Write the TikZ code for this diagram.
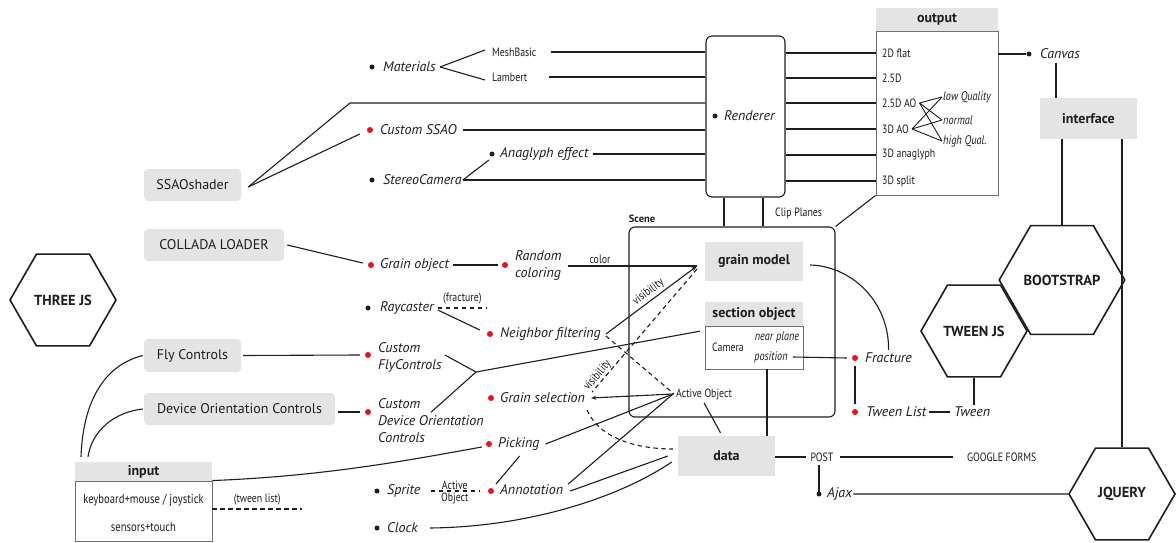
\documentclass[tikz,border=0pt]{standalone}
\usepackage{fontspec}
\usepackage{graphicx}
\setmainfont{PT Sans}
\usetikzlibrary{shapes.geometric,arrows.meta}
\definecolor{ink}{HTML}{1E1E1E}
\definecolor{boxgray}{HTML}{E4E4E4}
\definecolor{dotred}{HTML}{E8141B}
\definecolor{framegray}{HTML}{707070}
\newcommand\cnd[1]{\scalebox{0.82}[1]{#1}}
\tikzset{
  ln/.style={draw=ink, line width=1.1pt},
  dsh/.style={draw=ink, line width=1.1pt, dash pattern=on 4.5pt off 3.5pt},
  graybox/.style={fill=boxgray, rounded corners=4pt, inner sep=0pt, text=ink, font=\fontsize{14}{16}\selectfont},
  sqbox/.style={fill=boxgray, inner sep=0pt, text=ink, font=\fontsize{14}{16}\selectfont\bfseries},
  whitebox/.style={draw=framegray, fill=white, line width=0.9pt, inner sep=0pt},
  roundframe/.style={draw=ink, line width=1.1pt, rounded corners=6pt, inner sep=0pt},
  hex/.style={regular polygon, regular polygon sides=6, minimum size=106pt, draw=ink, line width=1.6pt, inner sep=0pt, text=ink, font=\fontsize{14.5}{16}\selectfont\bfseries},
  dotb/.style={circle, fill=ink, minimum size=5pt, inner sep=0pt},
  dotr/.style={circle, fill=dotred, minimum size=6pt, inner sep=0pt},
  it/.style={font=\fontsize{14}{17}\selectfont\itshape, inner sep=0pt, anchor=west, text=ink, align=left},
  cn/.style={font=\fontsize{12}{14}\selectfont, inner sep=0pt, text=ink},
  itc/.style={font=\fontsize{12.5}{14}\selectfont\itshape, inner sep=0pt, text=ink},
}
\begin{document}
\begin{tikzpicture}[x=1pt,y=-1pt]
\useasboundingbox[fill=white] (0,0) rectangle (1176,543);

% ---------- hexagons
\node[hex] (three) at (63,300) {THREE JS};
\node[hex] (boot) at (1062,280) {BOOTSTRAP};
\node[hex] (tweenjs) at (974,331) {TWEEN JS};
\node[hex] (jq) at (1122,494) {JQUERY};

% ---------- frames
\node[roundframe, minimum width=79pt, minimum height=161pt] (rend) at (745.5,116.5) {};
\node[roundframe, minimum width=206pt, minimum height=190pt] (scene) at (732,322) {};
\node[font=\fontsize{10.5}{11}\selectfont\bfseries, inner sep=0pt, text=ink] (scenelbl) at (642,219) {Scene};
\node[dotb] (rdot) at (715,116) {};
\node[it] (rtxt) at (724,116) {Renderer};

% ---------- output
\node[whitebox, minimum width=122pt, minimum height=164pt] (outbody) at (937,113) {};
\node[sqbox, minimum width=122pt, minimum height=23pt] (outhead) at (937,19.5) {output};
\node[cn, anchor=west] (o1) at (882,53) {\cnd{2D flat}};
\node[cn, anchor=west] (o2) at (882,78) {\cnd{2.5D}};
\node[cn, anchor=west] (o3) at (882,103) {\cnd{2.5D AO}};
\node[cn, anchor=west] (o4) at (882,129) {\cnd{3D AO}};
\node[cn, anchor=west] (o5) at (882,155) {\cnd{3D anaglyph}};
\node[cn, anchor=west] (o6) at (882,181) {\cnd{3D split}};
\node[itc, anchor=west] (lq) at (943,97) {\cnd{low Quality}};
\node[itc, anchor=west] (nm) at (943,120) {\cnd{normal}};
\node[itc, anchor=west] (hq) at (943,141) {\cnd{high Qual.}};
\foreach \a in {o3,o4} \foreach \b in {lq,nm,hq}
  \draw[ln, line width=0.9pt] ([xshift=3pt]\a.east) -- ([xshift=-1pt]\b.west);
\foreach \o in {o1,o2,o3,o4,o5,o6}
  \draw[ln] (rend.east |- \o.west) -- (outbody.west |- \o.west);

% ---------- canvas / interface
\node[dotb] (cvdot) at (1029,54) {};
\node[it] (canvas) at (1040,54) {Canvas};
\draw[ln] (outbody.east |- cvdot) -- (cvdot);
\node[sqbox, minimum width=97pt, minimum height=41pt] (iface) at (1088.5,118.5) {interface};
\coordinate (cvdn) at ([xshift=-4pt]canvas.south);
\draw[ln, shorten <=4pt] (cvdn) -- (cvdn |- iface.north);
\draw[ln] (iface.south -| boot.north) -- (boot.north);
\draw[ln] (iface.south -| jq.north) -- (jq.north);

% ---------- renderer / scene links
\coordinate (rs1) at ([xshift=-21.5pt]rend.south);
\coordinate (rs2) at ([xshift=17.5pt]rend.south);
\draw[ln] (rs1) -- (rs1 |- scene.north);
\draw[ln] (rs2) -- (rs2 |- scene.north);
\node[cn, anchor=west] (clip) at (775,213) {\cnd{Clip Planes}};
\draw[ln] (scene.north east) -- (outbody.south west);

% ---------- materials
\node[dotb] (matdot) at (372,67) {};
\node[it] (mat) at (383,67) {Materials};
\node[cn, anchor=west] (mb) at (492,52) {\cnd{MeshBasic}};
\node[cn, anchor=west] (lam) at (492,77) {\cnd{Lambert}};
\draw[ln] ([xshift=4pt]mat.east) -- ([xshift=-7pt,yshift=2pt]mb.west);
\draw[ln] ([xshift=4pt]mat.east) -- ([xshift=-7pt,yshift=-3pt]lam.west);
\draw[ln] ([xshift=14pt]mb.east) -- (rend.west |- mb.east);
\draw[ln] ([xshift=22pt]lam.east) -- (rend.west |- lam.east);

% ---------- SSAO
\node[graybox, minimum width=97pt, minimum height=32pt] (ssao) at (192.5,185) {SSAOshader};
\coordinate (ssaoknee) at (350,103);
\node[dotr] (cssdot) at (370,130) {};
\node[it] (css) at (380,130) {Custom SSAO};
\draw[ln] ([xshift=7pt,yshift=-2pt]ssao.east) -- (ssaoknee) -- (rend.west |- ssaoknee);
\draw[ln] ([xshift=7pt,yshift=-2pt]ssao.east) -- ([xshift=-7pt,yshift=-4pt]cssdot.west);
\draw[ln] ([xshift=6pt]css.east) -- (rend.west |- css.east);

% ---------- stereo
\node[dotb] (scdot) at (372,180) {};
\node[it] (sc) at (383,180) {StereoCamera};
\node[dotb] (anadot) at (492,154) {};
\node[it] (ana) at (500,154) {Anaglyph effect};
\draw[ln] ([xshift=4pt]ana.east) -- (rend.west |- ana.east);
\draw[ln] ([xshift=1pt]sc.east) -- ([xshift=-3pt,yshift=-6pt]anadot.center);
\draw[ln] ([xshift=1pt]sc.east) -- (rend.west |- sc.east);

% ---------- collada / grain
\node[graybox, minimum width=140pt, minimum height=32pt] (coll) at (214,245) {COLLADA LOADER};
\node[dotr] (godot) at (371,265) {};
\node[it] (go) at (380,265) {Grain object};
\draw[ln] ([xshift=3pt]coll.east) -- ([xshift=-5pt,yshift=2pt]godot.west);
\node[dotr] (rcdot) at (505,265) {};
\node[it] (rc) at (515,266) {Random\\coloring};
\draw[ln] ([xshift=4pt]go.east) -- ([xshift=-4pt]rcdot.west);
\node[sqbox, minimum width=98pt, minimum height=39pt] (grain) at (754,261.5) {grain model};
\coordinate (gin) at (697,266);
\draw[ln] ([xshift=6pt]rc.east) -- (gin) node[pos=0.25, above=2pt, cn] {\cnd{color}};

% ---------- raycaster / neighbor
\node[dotb] (raydot) at (368,308) {};
\node[it] (ray) at (380,308) {Raycaster};
\coordinate (frend) at (487,308);
\draw[dsh] ([xshift=4pt]ray.east) -- (frend) node[midway, above=3pt, cn] {\cnd{(fracture)}};
\node[dotr] (nfdot) at (490,334) {};
\node[it] (nf) at (500,334) {Neighbor filtering};
\draw[ln] ([xshift=4pt,yshift=-2pt]ray.east) -- ([xshift=-7pt,yshift=4pt]nfdot.west);
\draw[ln, -{Stealth[length=6pt,width=4pt]}] ([xshift=5pt]nf.east) -- (gin)
  node[pos=0.52, above=2pt, sloped, cn] {\cnd{visibility}};

% ---------- section object
\node[whitebox, minimum width=98pt, minimum height=43pt] (secbody) at (754,347.5) {};
\node[sqbox, minimum width=98pt, minimum height=24pt] (sechead) at (754,314) {section object};
\node[cn] (cam) at (728,347) {\cnd{Camera}};
\node[itc] (np) at (777,337) {\cnd{near plane}};
\node[itc] (pos) at (771,357) {\cnd{position}};

% ---------- active object / grain selection
\node[cn, anchor=west] (ao) at (676,394) {\cnd{Active Object}};
\draw[dsh] ([xshift=5pt,yshift=-2pt]nf.east) -- ([xshift=-2pt]ao.west);
\node[dotr] (gsdot) at (491,398) {};
\node[it] (gs) at (500,398) {Grain selection};
\draw[dsh] ([yshift=-3pt]gin) -- ([xshift=7pt,yshift=6pt]gs.east)
  node[pos=0.9, above=0.5pt, sloped, cn] {\cnd{visibility}};
\draw[ln, {Stealth[length=5pt,width=4pt]}-] ([xshift=6pt]gs.east) -- ([xshift=-3pt]ao.west);

% ---------- data
\node[sqbox, minimum width=97pt, minimum height=40pt] (data) at (726.5,456) {data};
\draw[dsh] ([xshift=2pt,yshift=-12pt]gs.east) .. controls (600,440) and (640,449) .. ([xshift=-5pt,yshift=7pt]data.west);
\draw[ln] ([yshift=-3pt]ao.south) -- ([xshift=-6pt,yshift=3pt]data.north);
\coordinate (posdn) at ([xshift=13pt]secbody.south);
\draw[ln] (posdn) -- (posdn |- data.north);

% ---------- fly / device orientation
\node[graybox, minimum width=97pt, minimum height=33pt] (fly) at (192.5,355.5) {Fly Controls};
\node[dotr] (cfdot) at (368,355) {};
\node[it] (cf) at (378,357) {Custom\\FlyControls};
\draw[ln] ([xshift=2pt]fly.east) -- ([xshift=-5pt]cfdot.west);
\node[graybox, minimum width=191pt, minimum height=32pt] (doc) at (239.5,409) {Device Orientation Controls};
\node[dotr] (cddot) at (368,412) {};
\node[it] (cd) at (378,421) {Custom\\Device Orientation\\Controls};
\draw[ln] ([xshift=3pt,yshift=-3pt]doc.east) -- ([xshift=-5pt]cddot.west);
\coordinate (fk) at (476,372);
\draw[ln] ([xshift=3pt,yshift=2pt]cf.east) -- (fk);
\draw[ln] ([xshift=53pt,yshift=-13.5pt]cd.north west) -- (fk);
\draw[ln] (fk) -- ([xshift=-5pt,yshift=-5pt]sechead.south west);

% ---------- picking / sprite / annotation / clock
\node[dotr] (pkdot) at (489,444) {};
\node[it] (pk) at (498,444) {Picking};
\draw[ln] ([xshift=6pt]pk.east) -- ([xshift=-3pt]ao.west);
\node[dotr] (andot) at (491,491) {};
\node[it] (an) at (500,490) {Annotation};
\draw[ln] ([xshift=5pt,yshift=6pt]an.east) -- ([xshift=-3pt]ao.west);
\draw[ln] ([xshift=7pt,yshift=-1pt]an.east) -- ([xshift=-10pt]data.west);
\draw[ln] ([xshift=-20pt,yshift=-12pt]pk.east) -- ([xshift=5pt,yshift=7pt]andot.center);
\node[dotb] (spdot) at (377,491) {};
\node[it] (sp) at (387,491) {Sprite};
\draw[dsh] ([xshift=10pt]sp.east) -- ([xshift=-12pt]andot.center)
  node[midway, above=1pt, cn] {\cnd{Active}} node[midway, below=1pt, cn] {\cnd{Object}};
\node[dotb] (ckdot) at (377,528) {};
\node[it] (ck) at (387,528) {Clock};
\draw[ln] ([xshift=12pt]ck.east) .. controls (530,527) and (620,497) .. ([xshift=-6pt,yshift=-6pt]data.west);

% ---------- input
\node[whitebox, minimum width=137pt, minimum height=60pt] (inbody) at (143.5,511) {};
\node[sqbox, minimum width=137pt, minimum height=19pt] (inhead) at (143.5,471.5) {input};
\node[cn, font=\fontsize{13}{15}\selectfont] (kb) at (143.5,500) {\cnd{keyboard+mouse / joystick}};
\node[cn, font=\fontsize{13}{15}\selectfont] (st) at (143.5,527) {\cnd{sensors+touch}};
\coordinate (in1) at ([xshift=-62.5pt,yshift=5pt]inhead.north);
\coordinate (in2) at ([xshift=-55.5pt,yshift=5pt]inhead.north);
\draw[ln] (in1) .. controls (83,400) and (105,365) .. ([xshift=-1pt]fly.west);
\draw[ln] (in2) .. controls (92,430) and (115,412) .. ([xshift=-1pt]doc.west);
\draw[ln] (inbody.north east) .. controls (330,476) and (420,458) .. ([xshift=-4pt,yshift=-3pt]pkdot.west);
\coordinate (twl) at (302,509);
\draw[dsh] ([yshift=2pt]inbody.east) -- (twl) node[midway, above=3pt, cn] {\cnd{(tween list)}};

% ---------- fracture / tween
\node[dotr] (frdot) at (855,358) {};
\node[it] (fr) at (865,358) {Fracture};
\draw[ln] ([xshift=5pt]pos.east) -- ([xshift=-5pt]frdot.west);
\draw[ln] ([xshift=7pt,yshift=-3.5pt]grain.east) .. controls (850,266) and (889,300) .. ([yshift=3pt]fr.north);
\node[dotr] (tldot) at (855,412) {};
\node[it] (tl) at (866,412) {Tween List};
\node[it] (tw) at (954,412) {Tween};
\draw[ln, shorten <=5pt, shorten >=5pt] (frdot) -- (tldot);
\draw[ln] ([xshift=2pt]tl.east) -- ([xshift=-4pt]tw.west);
\draw[ln] (tweenjs.south) -- ([yshift=2pt]tweenjs.south |- tw.north);

% ---------- post / ajax
\node[cn] (post) at (822,457) {\cnd{POST}};
\draw[ln] (data.east |- post.west) -- ([xshift=-4pt]post.west);
\node[cn, anchor=west] (gf) at (967,457) {\cnd{GOOGLE FORMS}};
\draw[ln] ([xshift=6pt]post.east) -- ([xshift=-14pt]gf.west);
\node[dotb] (ajdot) at (819,494) {};
\node[it] (aj) at (827,494) {Ajax};
\coordinate (postdn) at ([xshift=-3pt,yshift=-3pt]post.south);
\draw[ln] (postdn) -- (postdn |- ajdot.center);
\draw[ln] ([xshift=1pt]aj.east) -- (jq.west);
\end{tikzpicture}
\end{document}
